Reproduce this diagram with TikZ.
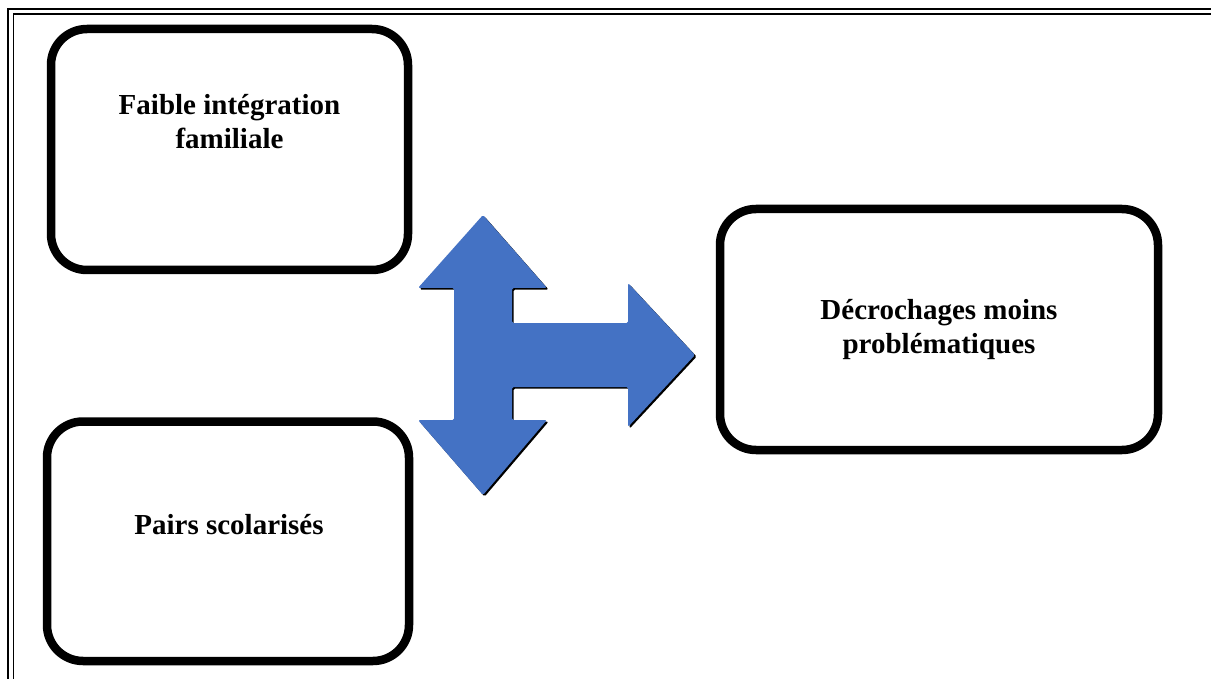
\documentclass[tikz,border=0pt]{standalone}
\usepackage{fontspec}
\setmainfont{Liberation Serif}
\usetikzlibrary{calc}
\definecolor{arrowblue}{HTML}{4472C4}
\tikzset{
	bloc/.style={draw=black, line width=8.5pt, rounded corners=36pt, inner sep=0pt},
	libelle/.style={align=center, font=\fontsize{29}{34}\selectfont\bfseries},
}

\begin{document}
\begin{tikzpicture}[x=1pt, y=-1pt]
			%%%%% START %%%%%
			\useasboundingbox (0, 0) rectangle (1211, 679);
			\clip (0, 0) rectangle (1211, 679);
			
			% cadre double
			\draw[line width=1.6pt] (8, 9) rectangle (1230, 700);
			\draw[line width=1.6pt] (13.5, 14) rectangle (1225, 695);
			
			% blocs
			\draw[bloc] (51, 29) rectangle (408, 270);
			\node[libelle] (integration) at (229.5, 122) {Faible intégration\\familiale};
			
			\draw[bloc] (47, 421.5) rectangle (409, 661);
			\node[libelle] (pairs) at (229, 525) {Pairs scolarisés};
			
			\draw[bloc] (720, 209) rectangle (1158, 450);
			\node[libelle] (decrochages) at (939, 330) {Décrochages moins\\problématiques};
			
			% fleche a trois pointes
			\fill[black, rounded corners=1.5pt, shift={(1.6, 1.6)}] (483, 215) -- (547, 288) -- (512, 288) -- (512, 323) -- (628, 323) -- (628, 283) -- (695, 355) -- (628, 427) -- (628, 387) -- (512, 387) -- (512, 420) -- (547, 420) -- (483, 495) -- (418, 420) -- (454, 420) -- (454, 288) -- (418, 288) -- cycle;
			\fill[arrowblue, rounded corners=1.5pt] (483, 215) -- (547, 288) -- (512, 288) -- (512, 323) -- (628, 323) -- (628, 283) -- (695, 355) -- (628, 427) -- (628, 387) -- (512, 387) -- (512, 420) -- (547, 420) -- (483, 495) -- (418, 420) -- (454, 420) -- (454, 288) -- (418, 288) -- cycle;
			
			%%%%% END %%%%%
		\end{tikzpicture}
\end{document}
